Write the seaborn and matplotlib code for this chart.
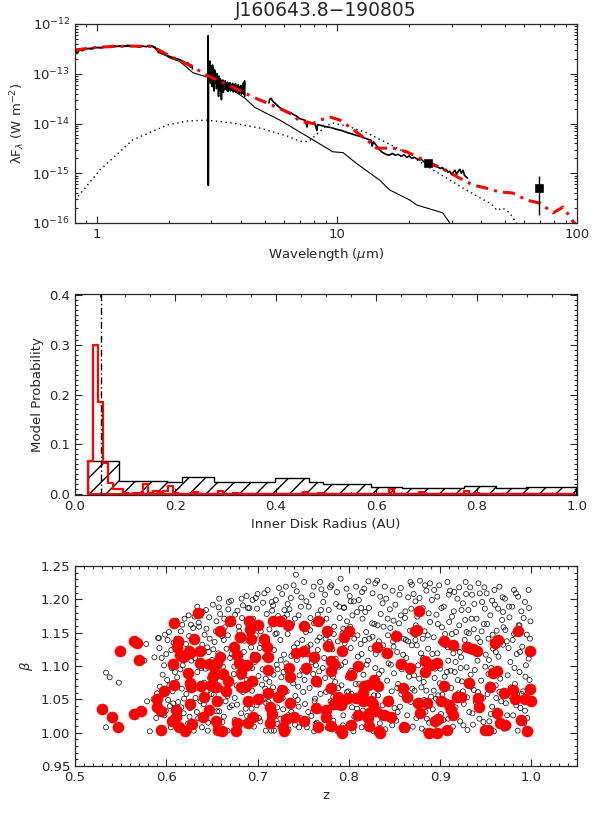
import numpy as np
import pandas as pd
import seaborn as sns
import matplotlib.pyplot as plt
from matplotlib.ticker import (MultipleLocator, FixedLocator, NullFormatter, FormatStrFormatter,
                               FuncFormatter)

sns.set_style('ticks')
plt.rcParams['font.family'] = ['DejaVu Sans']
plt.rcParams['mathtext.fontset'] = 'dejavusans'

# ---------------- SED panel data (wavelength in micron, lambda F_lambda in W m^-2)
phot_wave = [0.81, 0.9, 1.0, 1.2, 1.5, 1.7, 2.0, 2.22, 2.51, 2.9, 3.5, 4.14, 4.55, 5.78, 7.94,
             9.6, 10.6, 12.0, 15.1, 16.6, 20.1, 21.5, 27.6, 29.5, 32.0]
phot_flux = [3.0e-13, 3.2e-13, 3.4e-13, 3.5e-13, 3.55e-13, 3.5e-13, 2.1e-13, 1.75e-13, 1.05e-13,
             8.5e-14, 5.6e-14, 3.2e-14, 2.1e-14, 1.17e-14, 4.7e-15, 2.7e-15, 2.6e-15, 1.6e-15,
             7.2e-16, 4.6e-16, 2.9e-16, 2.3e-16, 1.6e-16, 1.0e-16, 6.3e-17]

disk_wave = [0.81, 1.03, 1.41, 1.96, 2.37, 2.87, 3.68, 4.77, 6.2, 7.0, 7.6, 8.3, 9.0, 9.6, 11.0,
             13.3, 18.3, 25.1, 34.6, 39.5, 44.0, 46.4, 49.0, 52.4, 56.0, 60.0]
disk_flux = [2.9e-16, 1.17e-15, 4.7e-15, 9.3e-15, 1.12e-14, 1.17e-14, 1.02e-14, 8.1e-15, 5.6e-15,
             4.4e-15, 4.3e-15, 6.3e-15, 8.9e-15, 1.02e-14, 8.9e-15, 6.5e-15, 3.0e-15, 1.17e-15,
             4.6e-16, 3.2e-16, 2.4e-16, 1.8e-16, 2.0e-16, 1.6e-16, 1.0e-16, 5e-17]

model_wave = [0.81, 0.9, 1.0, 1.2, 1.4, 1.7, 2.0, 2.49, 2.87, 3.68, 4.47, 5.1, 6.56, 7.0, 7.94,
              8.5, 9.36, 10.3, 11.3, 13.3, 14.6, 17.1, 19.5, 22.2, 26.9, 32.6, 36.8, 42.0, 47.6,
              54.0, 61.7, 70.0, 79.6, 87.6, 96.5, 100.0]
model_flux = [3.0e-13, 3.2e-13, 3.4e-13, 3.55e-13, 3.6e-13, 3.55e-13, 2.3e-13, 1.4e-13, 9.3e-14,
              5.4e-14, 3.4e-14, 2.6e-14, 1.5e-14, 1.1e-14, 1.0e-14, 1.17e-14, 1.35e-14, 1.17e-14,
              8.5e-15, 4.7e-15, 3.2e-15, 3.2e-15, 2.7e-15, 2.0e-15, 1.3e-15, 7.9e-16, 5.8e-16,
              5.0e-16, 4.2e-16, 4.0e-16, 2.9e-16, 2.5e-16, 1.6e-16, 2.1e-16, 1.05e-16, 8.9e-17]

nir_wave = [0.81, 0.815, 0.82, 0.83, 0.84, 0.85, 0.87, 0.89, 0.92, 0.95, 0.98, 1.0, 1.04, 1.08,
            1.12, 1.16, 1.2, 1.25, 1.3, 1.35, 1.4, 1.45, 1.5, 1.55, 1.6, 1.65, 1.7, 1.75, 1.8,
            1.9, 2.0, 2.1, 2.2, 2.3, 2.35, 2.4, 2.45, 2.48, 2.5]
nir_flux = [2.9e-13, 2.5e-13, 2.8e-13, 2.6e-13, 2.9e-13, 3.0e-13, 2.9e-13, 3.1e-13, 3.2e-13,
            3.15e-13, 3.3e-13, 3.35e-13, 3.3e-13, 3.45e-13, 3.5e-13, 3.7e-13, 3.55e-13, 3.65e-13,
            3.6e-13, 3.75e-13, 3.55e-13, 3.6e-13, 3.4e-13, 3.6e-13, 3.5e-13, 3.7e-13, 3.6e-13,
            3.4e-13, 2.7e-13, 2.45e-13, 2.25e-13, 2.05e-13, 1.95e-13, 1.75e-13, 1.55e-13, 1.65e-13,
            1.35e-13, 1.5e-13, 1.25e-13]

lband_wave = [2.90, 2.905, 2.91, 2.915, 2.92, 2.93, 2.94, 2.95, 2.96, 2.97, 2.98, 2.99, 3.00, 3.01,
              3.02, 3.03, 3.04, 3.05, 3.06, 3.07, 3.08, 3.09, 3.10, 3.11, 3.12, 3.135, 3.15, 3.165,
              3.18, 3.195, 3.21, 3.225, 3.24, 3.255, 3.27, 3.285, 3.30, 3.315, 3.33, 3.345, 3.36,
              3.38, 3.40, 3.42, 3.44, 3.46, 3.48, 3.50, 3.52, 3.54, 3.56, 3.58, 3.60, 3.625, 3.65,
              3.675, 3.70, 3.725, 3.75, 3.775, 3.80, 3.825, 3.85, 3.875, 3.90, 3.925, 3.95, 3.975,
              4.00, 4.025, 4.05, 4.075, 4.10, 4.12, 4.13]
lband_flux_e14 = [9, 58, 0.057, 12, 16, 7, 13, 8, 18, 6.5, 11, 14, 7.5, 12, 5.5, 15, 9, 13, 6,
                  10.5, 4.5, 12, 8, 11, 6.5, 9.5, 5, 10, 6, 8.5, 3.5, 9, 5.5, 8, 4.5, 7.5, 3.0, 7,
                  5, 7.5, 4.2, 6.8, 4.8, 7.2, 5, 6.5, 4.6, 6.8, 4.4, 6.2, 4.9, 6.6, 4.5, 6.1, 4.7,
                  6.4, 4.3, 5.9, 4.6, 6.3, 4.2, 5.7, 4.4, 6.0, 4.0, 5.5, 4.3, 5.8, 3.9, 5.2, 4.1,
                  6.5, 3.8, 7.2, 3.5]

irs_wave = [5.20, 5.25, 5.32, 5.40, 5.50, 5.65, 5.80, 6.0, 6.2, 6.4, 6.6, 6.8, 7.0, 7.2, 7.4, 7.5,
            7.55, 7.7, 7.9, 8.1, 8.25, 8.3, 8.45, 8.7, 9.0, 9.3, 9.6, 10.0, 10.5, 11.0, 11.5, 12.0,
            12.5, 13.0, 13.5, 13.9, 14.0, 14.2, 14.6, 15.0, 15.5, 16.0, 16.5, 17.0, 17.5, 18.0,
            18.5, 19.0, 19.5, 20.0, 20.5, 21.0, 21.5, 22.0, 22.5, 23.0, 23.5, 24.0, 24.5, 25.0,
            25.5, 26.0, 26.5, 27.0, 27.5, 28.0, 28.5, 29.0, 29.5, 30.0, 30.5, 31.0, 31.5, 32.0,
            32.5, 33.0, 33.5, 34.0, 34.5, 35.0]
irs_flux_e15 = [26, 31, 32, 28, 26, 23, 20.5, 19, 17.5, 16.5, 15, 14, 12.5, 12, 11.5, 8.5, 11, 10.5,
                10.2, 9.8, 7.2, 9.5, 9.3, 9.0, 8.6, 8.4, 8.1, 7.6, 7.2, 6.6, 6.2, 5.8, 5.5, 5.1,
                4.8, 4.6, 3.5, 4.3, 3.6, 3.0, 2.6, 2.4, 2.3, 2.5, 2.3, 2.4, 2.2, 2.35, 2.1, 2.2,
                2.0, 2.1, 1.95, 1.85, 1.9, 1.7, 1.6, 1.65, 1.5, 1.45, 1.4, 1.35, 1.3, 1.25, 1.3,
                1.15, 1.2, 1.05, 1.1, 0.95, 1.05, 1.15, 0.95, 1.1, 1.2, 1.0, 1.15, 0.9, 0.85, 0.8]

mips_wave = [23.9, 69.6]
mips_flux = [1.6e-15, 5.0e-16]
mips_err_lo = [0.1e-15, 3.55e-16]
mips_err_hi = [0.1e-15, 3.7e-16]

sed_xticks = [1, 10, 100]
sed_yticks = [1e-16, 1e-15, 1e-14, 1e-13, 1e-12]

# ---------------- inner disk radius histograms
prior_edges = [0.025, 0.088, 0.183, 0.213, 0.276, 0.399, 0.466, 0.494, 0.589, 0.652, 0.775,
               0.838, 0.898, 0.998]
prior_prob = [0.066, 0.026, 0.024, 0.033, 0.023, 0.031, 0.023, 0.019, 0.014, 0.012, 0.015,
              0.011, 0.0125]

fit_left = [0.025, 0.035, 0.045, 0.055, 0.065, 0.075, 0.085, 0.095, 0.115, 0.125, 0.135, 0.145,
            0.155, 0.165, 0.175, 0.185, 0.195, 0.235, 0.285, 0.315, 0.455, 0.485, 0.625, 0.685,
            0.775, 0.795]
fit_prob = [0.066, 0.300, 0.184, 0.061, 0.021, 0.0085, 0.0085, 0.002, 0.002, 0.002, 0.019, 0.002,
            0.0057, 0.003, 0.0057, 0.015, 0.002, 0.0037, 0.0044, 0.002, 0.0037, 0.002, 0.0085,
            0.0037, 0.0057, 0.002]
best_rin = 0.052

# ---------------- z vs beta scatter
all_models = [
    (0.534, 1.090), (0.538, 1.083), (0.548, 1.075), (0.534, 1.008), (0.578, 1.133), (0.576, 1.108),
    (0.579, 1.047), (0.582, 1.002), (0.587, 1.113), (0.592, 1.142), (0.586, 1.050), (0.588, 1.039),
    (0.589, 1.022), (0.590, 1.059),
    (0.591, 1.142), (0.593, 1.069), (0.596, 1.087), (0.598, 1.026), (0.600, 1.118), (0.602, 1.049),
    (0.603, 1.151), (0.605, 1.008), (0.606, 1.097), (0.607, 1.062), (0.608, 1.135), (0.609, 1.018),
    (0.595, 1.112), (0.601, 1.079), (0.604, 1.040),
    (0.611, 1.168), (0.612, 1.083), (0.613, 1.046), (0.614, 1.127), (0.615, 1.005), (0.616, 1.152),
    (0.617, 1.066), (0.618, 1.101), (0.619, 1.029), (0.620, 1.171), (0.621, 1.115), (0.622, 1.058),
    (0.623, 1.089), (0.624, 1.014), (0.625, 1.145), (0.626, 1.037), (0.627, 1.162), (0.628, 1.076),
    (0.629, 1.121), (0.630, 1.003),
    (0.631, 1.174), (0.632, 1.052), (0.633, 1.137), (0.634, 1.091), (0.635, 1.022), (0.636, 1.159),
    (0.637, 1.071), (0.638, 1.118), (0.639, 1.008), (0.640, 1.181), (0.641, 1.043), (0.642, 1.147),
    (0.643, 1.096), (0.644, 1.062), (0.645, 1.128), (0.646, 1.015), (0.647, 1.173), (0.648, 1.082),
    (0.649, 1.035), (0.650, 1.109), (0.634, 1.189), (0.644, 1.156),
    (0.651, 1.192), (0.652, 1.057), (0.653, 1.136), (0.654, 1.011), (0.655, 1.167), (0.656, 1.084),
    (0.657, 1.119), (0.658, 1.032), (0.659, 1.178), (0.660, 1.066), (0.661, 1.145), (0.662, 1.099),
    (0.663, 1.024), (0.664, 1.158), (0.665, 1.047), (0.666, 1.126), (0.667, 1.003), (0.668, 1.185),
    (0.669, 1.077), (0.670, 1.112), (0.658, 1.201), (0.663, 1.139), (0.667, 1.055),
    (0.671, 1.198), (0.672, 1.041), (0.673, 1.164), (0.674, 1.088), (0.675, 1.019), (0.676, 1.131),
    (0.677, 1.071), (0.678, 1.183), (0.679, 1.006), (0.680, 1.152), (0.681, 1.104), (0.682, 1.029),
    (0.683, 1.172), (0.684, 1.061), (0.685, 1.121), (0.686, 1.093), (0.687, 1.036), (0.688, 1.205),
    (0.689, 1.143), (0.690, 1.012), (0.675, 1.052), (0.679, 1.116), (0.684, 1.191), (0.688, 1.079),
    (0.691, 1.187), (0.692, 1.024), (0.693, 1.128), (0.694, 1.063), (0.695, 1.171), (0.696, 1.009),
    (0.697, 1.106), (0.698, 1.146), (0.699, 1.041), (0.700, 1.208), (0.701, 1.085), (0.702, 1.161),
    (0.703, 1.017), (0.704, 1.134), (0.705, 1.072), (0.706, 1.195), (0.707, 1.052), (0.708, 1.113),
    (0.709, 1.003), (0.710, 1.178), (0.694, 1.097), (0.698, 1.202), (0.703, 1.054), (0.707, 1.141),
    (0.709, 1.081),
    (0.711, 1.214), (0.712, 1.046), (0.713, 1.155), (0.714, 1.091), (0.715, 1.003), (0.716, 1.183),
    (0.717, 1.068), (0.718, 1.124), (0.719, 1.027), (0.720, 1.199), (0.721, 1.102), (0.722, 1.013),
    (0.723, 1.167), (0.724, 1.057), (0.725, 1.139), (0.726, 1.083), (0.727, 1.208), (0.728, 1.035),
    (0.729, 1.117), (0.730, 1.001), (0.713, 1.076), (0.717, 1.191), (0.721, 1.149), (0.725, 1.021),
    (0.729, 1.172), (0.718, 1.003), (0.722, 1.095),
    (0.731, 1.219), (0.732, 1.062), (0.733, 1.148), (0.734, 1.005), (0.735, 1.185), (0.736, 1.097),
    (0.737, 1.031), (0.738, 1.163), (0.739, 1.074), (0.740, 1.128), (0.741, 1.012), (0.742, 1.237),
    (0.743, 1.109), (0.744, 1.049), (0.745, 1.176), (0.746, 1.086), (0.747, 1.022), (0.748, 1.203),
    (0.749, 1.139), (0.750, 1.061), (0.733, 1.193), (0.737, 1.115), (0.741, 1.171), (0.745, 1.039),
    (0.749, 1.094), (0.735, 1.041), (0.743, 1.212),
    (0.751, 1.226), (0.752, 1.043), (0.753, 1.151), (0.754, 1.008), (0.755, 1.118), (0.756, 1.189),
    (0.757, 1.067), (0.758, 1.132), (0.759, 1.025), (0.760, 1.206), (0.761, 1.088), (0.762, 1.164),
    (0.763, 1.051), (0.764, 1.101), (0.765, 1.015), (0.766, 1.177), (0.767, 1.072), (0.768, 1.143),
    (0.769, 1.033), (0.770, 1.215), (0.754, 1.091), (0.758, 1.172), (0.762, 1.002), (0.766, 1.124),
    (0.769, 1.058), (0.772, 1.196),
    (0.771, 1.168), (0.772, 1.034), (0.773, 1.112), (0.774, 1.207), (0.775, 1.061), (0.776, 1.146),
    (0.777, 1.007), (0.778, 1.184), (0.779, 1.093), (0.780, 1.047), (0.781, 1.221), (0.782, 1.125),
    (0.783, 1.018), (0.784, 1.159), (0.785, 1.076), (0.786, 1.193), (0.787, 1.039), (0.788, 1.137),
    (0.789, 1.099), (0.790, 1.004), (0.774, 1.082), (0.779, 1.136), (0.783, 1.054), (0.787, 1.211),
    (0.790, 1.172),
    (0.791, 1.231), (0.792, 1.071), (0.793, 1.149), (0.794, 1.026), (0.795, 1.188), (0.796, 1.106),
    (0.797, 1.045), (0.798, 1.167), (0.799, 1.083), (0.800, 1.012), (0.801, 1.205), (0.802, 1.127),
    (0.803, 1.058), (0.804, 1.176), (0.805, 1.002), (0.806, 1.141), (0.807, 1.092), (0.808, 1.219),
    (0.809, 1.036), (0.810, 1.114), (0.794, 1.156), (0.798, 1.061), (0.802, 1.197), (0.806, 1.024),
    (0.809, 1.181),
    (0.811, 1.199), (0.812, 1.049), (0.813, 1.133), (0.814, 1.008), (0.815, 1.171), (0.816, 1.087),
    (0.817, 1.216), (0.818, 1.064), (0.819, 1.151), (0.820, 1.021), (0.821, 1.108), (0.822, 1.187),
    (0.823, 1.043), (0.824, 1.126), (0.825, 1.075), (0.826, 1.209), (0.827, 1.002), (0.828, 1.163),
    (0.829, 1.097), (0.830, 1.031), (0.814, 1.118), (0.818, 1.181), (0.822, 1.069), (0.826, 1.144),
    (0.829, 1.224),
    (0.831, 1.228), (0.832, 1.056), (0.833, 1.137), (0.834, 1.014), (0.835, 1.178), (0.836, 1.093),
    (0.837, 1.041), (0.838, 1.159), (0.839, 1.117), (0.840, 1.005), (0.841, 1.201), (0.842, 1.078),
    (0.843, 1.146), (0.844, 1.027), (0.845, 1.185), (0.846, 1.102), (0.847, 1.062), (0.848, 1.213),
    (0.849, 1.129), (0.850, 1.037), (0.833, 1.088), (0.837, 1.194), (0.841, 1.123), (0.845, 1.051),
    (0.849, 1.168),
    (0.851, 1.192), (0.852, 1.018), (0.853, 1.121), (0.854, 1.073), (0.855, 1.164), (0.856, 1.039),
    (0.857, 1.217), (0.858, 1.095), (0.859, 1.004), (0.860, 1.141), (0.861, 1.058), (0.862, 1.182),
    (0.863, 1.112), (0.864, 1.026), (0.865, 1.203), (0.866, 1.084), (0.867, 1.153), (0.868, 1.046),
    (0.869, 1.131), (0.870, 1.009), (0.853, 1.067), (0.857, 1.176), (0.861, 1.101), (0.865, 1.137),
    (0.869, 1.222),
    (0.871, 1.208), (0.872, 1.063), (0.873, 1.139), (0.874, 1.022), (0.875, 1.174), (0.876, 1.101),
    (0.877, 1.044), (0.878, 1.228), (0.879, 1.119), (0.880, 1.006), (0.881, 1.187), (0.882, 1.076),
    (0.883, 1.152), (0.884, 1.031), (0.885, 1.213), (0.886, 1.089), (0.887, 1.126), (0.888, 1.015),
    (0.889, 1.166), (0.890, 1.054), (0.873, 1.197), (0.877, 1.081), (0.881, 1.141), (0.885, 1.063),
    (0.889, 1.224), (0.884, 1.002),
    (0.891, 1.199), (0.892, 1.035), (0.893, 1.143), (0.894, 1.082), (0.895, 1.012), (0.896, 1.177),
    (0.897, 1.119), (0.898, 1.056), (0.899, 1.221), (0.900, 1.096), (0.901, 1.028), (0.902, 1.158),
    (0.903, 1.071), (0.904, 1.189), (0.905, 1.003), (0.906, 1.131), (0.907, 1.047), (0.908, 1.226),
    (0.909, 1.108), (0.910, 1.166), (0.893, 1.063), (0.897, 1.204), (0.901, 1.136), (0.905, 1.084),
    (0.909, 1.021),
    (0.911, 1.213), (0.912, 1.067), (0.913, 1.148), (0.914, 1.009), (0.915, 1.182), (0.916, 1.091),
    (0.917, 1.038), (0.918, 1.127), (0.919, 1.201), (0.920, 1.059), (0.921, 1.161), (0.922, 1.017),
    (0.923, 1.113), (0.924, 1.077), (0.925, 1.194), (0.926, 1.043), (0.927, 1.139), (0.928, 1.226),
    (0.929, 1.098), (0.930, 1.004), (0.913, 1.174), (0.917, 1.106), (0.921, 1.218), (0.925, 1.062),
    (0.929, 1.151),
    (0.931, 1.184), (0.932, 1.031), (0.933, 1.122), (0.934, 1.069), (0.935, 1.207), (0.936, 1.012),
    (0.937, 1.155), (0.938, 1.094), (0.939, 1.046), (0.940, 1.171), (0.941, 1.108), (0.942, 1.224),
    (0.943, 1.021), (0.944, 1.136), (0.945, 1.078), (0.946, 1.196), (0.947, 1.052), (0.948, 1.163),
    (0.949, 1.002), (0.950, 1.117), (0.933, 1.218), (0.937, 1.064), (0.941, 1.142), (0.945, 1.035),
    (0.949, 1.186),
    (0.951, 1.209), (0.952, 1.058), (0.953, 1.141), (0.954, 1.017), (0.955, 1.176), (0.956, 1.097),
    (0.957, 1.039), (0.958, 1.126), (0.959, 1.002), (0.960, 1.192), (0.961, 1.071), (0.962, 1.153),
    (0.963, 1.028), (0.964, 1.114), (0.965, 1.219), (0.966, 1.081), (0.967, 1.047), (0.968, 1.169),
    (0.969, 1.132), (0.970, 1.006), (0.953, 1.088), (0.957, 1.198), (0.961, 1.121), (0.965, 1.061),
    (0.969, 1.181),
    (0.971, 1.201), (0.972, 1.044), (0.973, 1.137), (0.974, 1.086), (0.975, 1.011), (0.976, 1.173),
    (0.977, 1.106), (0.978, 1.054), (0.979, 1.189), (0.980, 1.026), (0.981, 1.148), (0.982, 1.073),
    (0.983, 1.209), (0.984, 1.118), (0.985, 1.003), (0.986, 1.161), (0.987, 1.091), (0.988, 1.037),
    (0.989, 1.182), (0.990, 1.129), (0.991, 1.062), (0.992, 1.014), (0.993, 1.196), (0.994, 1.101),
    (0.995, 1.147), (0.996, 1.048), (0.997, 1.214), (0.998, 1.079), (0.999, 1.002), (0.999, 1.167),
    (0.975, 1.127), (0.981, 1.214), (0.987, 1.161), (0.993, 1.033), (0.997, 1.111),
    # second pass over the cloud
    (0.5925, 1.127), (0.5945, 1.055), (0.5975, 1.101), (0.5995, 1.033), (0.6015, 1.139),
    (0.6035, 1.071), (0.6055, 1.124), (0.6075, 1.044), (0.6095, 1.091), (0.5985, 1.147),
    (0.6115, 1.141), (0.6135, 1.012), (0.6155, 1.095), (0.6175, 1.162), (0.6195, 1.051),
    (0.6215, 1.133), (0.6235, 1.072), (0.6255, 1.024), (0.6275, 1.108), (0.6295, 1.157),
    (0.6165, 1.038), (0.6245, 1.176),
    (0.6315, 1.112), (0.6335, 1.031), (0.6355, 1.165), (0.6375, 1.047), (0.6395, 1.132),
    (0.6415, 1.075), (0.6435, 1.184), (0.6455, 1.003), (0.6475, 1.141), (0.6495, 1.058),
    (0.6385, 1.097), (0.6465, 1.121),
    (0.6515, 1.125), (0.6535, 1.079), (0.6555, 1.032), (0.6575, 1.188), (0.6595, 1.107),
    (0.6615, 1.016), (0.6635, 1.171), (0.6655, 1.089), (0.6675, 1.146), (0.6695, 1.038),
    (0.6545, 1.152), (0.6625, 1.062), (0.6685, 1.196),
    (0.6715, 1.118), (0.6735, 1.003), (0.6755, 1.177), (0.6775, 1.042), (0.6795, 1.159),
    (0.6815, 1.083), (0.6835, 1.015), (0.6855, 1.138), (0.6875, 1.064), (0.6895, 1.187),
    (0.6745, 1.099), (0.6825, 1.201), (0.6885, 1.025),
    (0.6915, 1.148), (0.6935, 1.036), (0.6955, 1.117), (0.6975, 1.074), (0.6995, 1.186),
    (0.7015, 1.022), (0.7035, 1.152), (0.7055, 1.095), (0.7075, 1.209), (0.7095, 1.044),
    (0.6945, 1.199), (0.7025, 1.127), (0.7085, 1.066),
    (0.7115, 1.132), (0.7135, 1.021), (0.7155, 1.196), (0.7175, 1.087), (0.7195, 1.148),
    (0.7215, 1.038), (0.7235, 1.217), (0.7255, 1.109), (0.7275, 1.052), (0.7295, 1.184),
    (0.7145, 1.061), (0.7225, 1.175), (0.7285, 1.091),
    (0.7315, 1.104), (0.7335, 1.026), (0.7355, 1.158), (0.7375, 1.081), (0.7395, 1.221),
    (0.7415, 1.055), (0.7435, 1.134), (0.7455, 1.008), (0.7475, 1.189), (0.7495, 1.117),
    (0.7365, 1.202), (0.7445, 1.069), (0.7325, 1.177),
    (0.7515, 1.079), (0.7535, 1.197), (0.7555, 1.031), (0.7575, 1.154), (0.7595, 1.106),
    (0.7615, 1.219), (0.7635, 1.013), (0.7655, 1.138), (0.7675, 1.092), (0.7695, 1.184),
    (0.7545, 1.128), (0.7625, 1.047), (0.7685, 1.226),
    (0.7715, 1.097), (0.7735, 1.019), (0.7755, 1.171), (0.7775, 1.064), (0.7795, 1.218),
    (0.7815, 1.042), (0.7835, 1.148), (0.7855, 1.111), (0.7875, 1.002), (0.7895, 1.189),
    (0.7745, 1.141), (0.7825, 1.084), (0.7885, 1.067),
    (0.7915, 1.101), (0.7935, 1.011), (0.7955, 1.134), (0.7975, 1.216), (0.7995, 1.062),
    (0.8015, 1.159), (0.8035, 1.038), (0.8055, 1.197), (0.8075, 1.073), (0.8095, 1.146),
    (0.7945, 1.187), (0.8025, 1.093), (0.8085, 1.021),
    (0.8115, 1.073), (0.8135, 1.187), (0.8155, 1.033), (0.8175, 1.139), (0.8195, 1.102),
    (0.8215, 1.227), (0.8235, 1.012), (0.8255, 1.164), (0.8275, 1.056), (0.8295, 1.118),
    (0.8145, 1.211), (0.8225, 1.141), (0.8285, 1.081),
    (0.8315, 1.161), (0.8335, 1.071), (0.8355, 1.023), (0.8375, 1.131), (0.8395, 1.219),
    (0.8415, 1.046), (0.8435, 1.104), (0.8455, 1.157), (0.8475, 1.011), (0.8495, 1.089),
    (0.8345, 1.204), (0.8425, 1.171), (0.8485, 1.137),
    (0.8515, 1.149), (0.8535, 1.031), (0.8555, 1.207), (0.8575, 1.058), (0.8595, 1.117),
    (0.8615, 1.172), (0.8635, 1.004), (0.8655, 1.093), (0.8675, 1.226), (0.8695, 1.066),
    (0.8545, 1.101), (0.8625, 1.139), (0.8685, 1.186),
    (0.8715, 1.086), (0.8735, 1.161), (0.8755, 1.043), (0.8775, 1.202), (0.8795, 1.068),
    (0.8815, 1.112), (0.8835, 1.221), (0.8855, 1.021), (0.8875, 1.179), (0.8895, 1.097),
    (0.8745, 1.131), (0.8825, 1.049), (0.8865, 1.146),
    (0.8915, 1.118), (0.8935, 1.214), (0.8955, 1.051), (0.8975, 1.163), (0.8995, 1.074),
    (0.9015, 1.187), (0.9035, 1.019), (0.9055, 1.148), (0.9075, 1.091), (0.9095, 1.207),
    (0.8945, 1.096), (0.9025, 1.057), (0.9085, 1.128),
    (0.9115, 1.093), (0.9135, 1.028), (0.9155, 1.211), (0.9175, 1.151), (0.9195, 1.079),
    (0.9215, 1.121), (0.9235, 1.184), (0.9255, 1.011), (0.9275, 1.169), (0.9295, 1.053),
    (0.9145, 1.119), (0.9225, 1.097), (0.9285, 1.208),
    (0.9315, 1.149), (0.9335, 1.087), (0.9355, 1.029), (0.9375, 1.193), (0.9395, 1.124),
    (0.9415, 1.061), (0.9435, 1.209), (0.9455, 1.152), (0.9475, 1.016), (0.9495, 1.099),
    (0.9345, 1.171), (0.9425, 1.038), (0.9485, 1.218),
    (0.9515, 1.163), (0.9535, 1.109), (0.9555, 1.028), (0.9575, 1.147), (0.9595, 1.214),
    (0.9615, 1.052), (0.9635, 1.186), (0.9655, 1.091), (0.9675, 1.009), (0.9695, 1.158),
    (0.9545, 1.072), (0.9625, 1.137), (0.9685, 1.203),
    (0.9715, 1.154), (0.9735, 1.026), (0.9755, 1.189), (0.9775, 1.068), (0.9795, 1.139),
    (0.9815, 1.097), (0.9835, 1.041), (0.9855, 1.204), (0.9875, 1.121), (0.9895, 1.058),
    (0.9915, 1.172), (0.9935, 1.084), (0.9955, 1.022), (0.9975, 1.187), (0.9985, 1.141),
    (0.9995, 1.061),
]

good_fits = [
    (0.530, 1.036), (0.541, 1.023), (0.547, 1.008), (0.549, 1.123), (0.565, 1.138), (0.568, 1.134),
    (0.570, 1.109), (0.565, 1.028), (0.572, 1.032), (0.590, 1.050), (0.590, 1.039), (0.594, 1.033),
    (0.594, 1.004), (0.598, 1.063), (0.607, 1.103), (0.609, 1.165), (0.609, 1.072), (0.611, 1.034),
    (0.611, 1.024), (0.606, 1.017), (0.613, 1.138), (0.612, 1.129), (0.615, 1.117), (0.618, 1.114),
    (0.620, 1.003), (0.614, 1.009), (0.624, 1.090), (0.625, 1.123), (0.626, 1.119), (0.626, 1.074),
    (0.627, 1.068), (0.626, 1.043), (0.628, 1.013), (0.630, 1.140), (0.635, 1.180), (0.637, 1.123),
    (0.637, 1.105), (0.638, 1.070), (0.640, 1.024), (0.641, 1.053), (0.647, 1.103), (0.647, 1.034),
    (0.649, 1.072), (0.651, 1.085), (0.652, 1.098), (0.654, 1.018), (0.654, 1.069), (0.656, 1.104),
    (0.656, 1.048), (0.657, 1.004), (0.659, 1.153), (0.659, 1.114), (0.661, 1.003), (0.662, 1.088),
    (0.665, 1.063), (0.670, 1.167), (0.668, 1.077), (0.674, 1.129), (0.676, 1.003), (0.677, 1.014),
    (0.678, 1.117), (0.680, 1.104), (0.681, 1.143), (0.682, 1.089), (0.682, 1.068), (0.687, 1.070),
    (0.688, 1.102), (0.689, 1.047), (0.689, 1.014), (0.691, 1.168), (0.692, 1.155), (0.693, 1.140),
    (0.694, 1.077), (0.695, 1.024), (0.697, 1.114), (0.700, 1.050), (0.701, 1.162), (0.707, 1.140),
    (0.710, 1.129), (0.711, 1.114), (0.711, 1.094), (0.712, 1.059), (0.714, 1.039), (0.714, 1.014),
    (0.716, 1.028), (0.717, 1.168), (0.722, 1.054), (0.725, 1.167), (0.727, 1.064), (0.728, 1.008),
    (0.729, 1.002), (0.731, 1.020), (0.733, 1.162), (0.734, 1.097), (0.736, 1.084), (0.736, 1.044),
    (0.740, 1.024), (0.742, 1.119),
    (0.751, 1.160), (0.766, 1.168), (0.751, 1.122), (0.762, 1.114), (0.753, 1.097), (0.764, 1.078),
    (0.764, 1.037), (0.751, 1.017), (0.766, 1.009), (0.776, 1.152), (0.795, 1.143), (0.800, 1.153),
    (0.777, 1.130), (0.792, 1.122), (0.780, 1.107), (0.784, 1.103), (0.780, 1.093), (0.802, 1.086),
    (0.810, 1.100), (0.780, 1.067), (0.788, 1.054), (0.799, 1.052), (0.784, 1.043), (0.791, 1.042),
    (0.775, 1.034), (0.775, 1.023), (0.780, 1.010), (0.791, 1.004), (0.793, 1.000), (0.802, 1.012),
    (0.808, 1.052), (0.810, 1.027), (0.815, 1.059), (0.817, 1.070), (0.821, 1.072), (0.816, 1.047),
    (0.824, 1.047), (0.828, 1.079), (0.831, 1.129), (0.832, 1.070), (0.826, 1.043), (0.822, 1.029),
    (0.821, 1.022), (0.822, 1.010), (0.830, 1.032), (0.833, 1.002), (0.834, 1.000), (0.839, 1.027),
    (0.842, 1.119), (0.843, 1.047), (0.846, 1.024), (0.852, 1.145), (0.857, 1.103), (0.859, 1.067),
    (0.861, 1.008), (0.864, 1.054), (0.867, 1.097), (0.873, 1.152), (0.875, 1.154), (0.877, 1.183),
    (0.876, 1.044), (0.878, 1.029), (0.883, 1.107), (0.883, 1.091), (0.886, 1.044), (0.890, 1.102),
    (0.897, 1.104), (0.888, 1.000), (0.897, 1.000), (0.894, 1.018), (0.898, 1.020), (0.901, 1.047),
    (0.904, 1.070), (0.904, 1.137), (0.910, 1.042), (0.912, 1.034), (0.914, 1.027), (0.908, 1.004),
    (0.914, 1.132), (0.919, 1.054), (0.923, 1.054), (0.929, 1.128), (0.932, 1.074), (0.936, 1.125),
    (0.940, 1.122), (0.941, 1.052), (0.943, 1.039), (0.949, 1.004), (0.952, 1.004), (0.955, 1.069),
    (0.958, 1.090), (0.962, 1.093), (0.960, 1.135), (0.963, 1.139), (0.962, 1.029), (0.966, 1.014),
    (0.971, 1.012), (0.970, 1.059), (0.980, 1.064), (0.982, 1.050), (0.985, 1.153), (0.989, 1.019),
    (0.993, 1.050), (0.995, 1.002), (0.998, 1.122), (0.999, 1.065), (1.000, 1.047),
]

fig = plt.figure(figsize=(5.99, 8.14), dpi=100)
W, H = 599.0, 814.0
def box(l, t, r, b):
    return [l / W, 1 - b / H, (r - l) / W, (b - t) / H]

ax1 = fig.add_axes(box(75, 24, 577, 223))
ax2 = fig.add_axes(box(75, 294, 577, 495))
ax3 = fig.add_axes(box(75, 566, 577, 766))

fs = 9.5
for ax in (ax1, ax2, ax3):
    ax.tick_params(which='both', direction='in', top=True, right=True, labelsize=fs, width=0.8)
    ax.tick_params(which='major', length=5)
    ax.tick_params(which='minor', length=2.5)
    for sp in ax.spines.values():
        sp.set_linewidth(0.9)

# ---- panel 1: SED
ax1.set_xscale('log')
ax1.set_yscale('log')
sns.lineplot(x=phot_wave, y=phot_flux, estimator=None, sort=False, color='black', lw=0.8, ax=ax1)
sns.lineplot(x=disk_wave, y=disk_flux, estimator=None, sort=False, color='black', lw=1.0,
             linestyle=(0, (1, 2.5)), ax=ax1)
for w, f in [(nir_wave, nir_flux), (lband_wave, [v * 1e-14 for v in lband_flux_e14]),
             (irs_wave, [v * 1e-15 for v in irs_flux_e15])]:
    sns.lineplot(x=w, y=f, estimator=None, sort=False, color='black', lw=1.2, ax=ax1)
sns.lineplot(x=model_wave, y=model_flux, estimator=None, sort=False, color='red', lw=2.2,
             linestyle=(0, (4, 2, 1, 2)), ax=ax1)
ax1.errorbar(mips_wave, mips_flux, yerr=[mips_err_lo, mips_err_hi], fmt='none', ecolor='black',
             elinewidth=1, capsize=0)
sns.scatterplot(x=mips_wave, y=mips_flux, marker='s', color='black', s=32, edgecolor='black',
                ax=ax1, zorder=5)
ax1.set_xlim(0.81, 100)
ax1.set_ylim(1e-16, 1e-12)
minor_x = [m * d for d in (0.1, 1, 10) for m in range(2, 10) if 0.81 <= m * d <= 100]
minor_y = [m * d for d in (1e-16, 1e-15, 1e-14, 1e-13) for m in range(2, 10)]
ax1.xaxis.set_major_locator(FixedLocator(sed_xticks))
ax1.xaxis.set_minor_locator(FixedLocator(minor_x))
ax1.xaxis.set_minor_formatter(NullFormatter())
ax1.xaxis.set_major_formatter(FuncFormatter(lambda v, p: '%g' % v))
ax1.yaxis.set_major_locator(FixedLocator(sed_yticks))
ax1.yaxis.set_minor_locator(FixedLocator(minor_y))
ax1.yaxis.set_minor_formatter(NullFormatter())
ax1.yaxis.set_major_formatter(
    FuncFormatter(lambda v, p: '10$^{%d}$' % int(round(np.log10(v)))))
ax1.set_xlabel('Wavelength ($\\mu$m)', fontsize=fs)
ax1.set_ylabel('\u03bbF$_\\lambda$ (W m$^{-2}$)', fontsize=fs)
fig.text(326 / W, 1 - 11 / H, 'J160643.8\u2212190805', ha='center', va='center', fontsize=13.5)

# ---- panel 2: inner disk radius
prior_centers = [(a + b) / 2 for a, b in zip(prior_edges[:-1], prior_edges[1:])]
sns.histplot(x=prior_centers, weights=prior_prob, bins=prior_edges, element='step', fill=True,
             color='black', edgecolor='black', hatch='//', linewidth=1.0, ax=ax2)
ax2.collections[-1].set_facecolor('none')
fit_edges = [round(0.025 + 0.01 * k, 3) for k in range(98)]
fit_centers = [l + 0.005 for l in fit_left]
sns.histplot(x=fit_centers, weights=fit_prob, bins=fit_edges, element='step', fill=True,
             color='red', edgecolor='red', linewidth=1.6, ax=ax2)
ax2.collections[-1].set_facecolor('none')
ax2.axvline(best_rin, color='black', lw=1.0, linestyle=(0, (5, 2, 1, 2)))
ax2.set_xlim(0, 1.0)
ax2.set_ylim(-0.003, 0.403)
ax2.xaxis.set_major_locator(MultipleLocator(0.2))
ax2.xaxis.set_minor_locator(MultipleLocator(0.05))
ax2.yaxis.set_major_locator(MultipleLocator(0.1))
ax2.yaxis.set_minor_locator(MultipleLocator(0.01))
ax2.xaxis.set_major_formatter(FormatStrFormatter('%.1f'))
ax2.yaxis.set_major_formatter(FormatStrFormatter('%.1f'))
ax2.set_xlabel('Inner Disk Radius (AU)', fontsize=fs)
ax2.set_ylabel('Model Probability', fontsize=fs)

# ---- panel 3: z vs beta
models = pd.DataFrame(all_models, columns=['z', 'beta'])
fits = pd.DataFrame(good_fits, columns=['z', 'beta'])
sns.scatterplot(data=models, x='z', y='beta', marker='o', s=13, facecolors='none',
                edgecolor='black', linewidth=0.5, ax=ax3)
sns.scatterplot(data=fits, x='z', y='beta', marker='o', s=70, color='red', edgecolor='red',
                linewidth=0, ax=ax3, zorder=4)
ax3.set_xlim(0.5, 1.05)
ax3.set_ylim(0.95, 1.25)
ax3.xaxis.set_major_locator(MultipleLocator(0.1))
ax3.xaxis.set_minor_locator(MultipleLocator(0.01))
ax3.yaxis.set_major_locator(MultipleLocator(0.05))
ax3.yaxis.set_minor_locator(MultipleLocator(0.01))
ax3.xaxis.set_major_formatter(FormatStrFormatter('%.1f'))
ax3.yaxis.set_major_formatter(FormatStrFormatter('%.2f'))
ax3.set_xlabel('z', fontsize=fs)
ax3.set_ylabel('$\\beta$', fontsize=fs)

fig.savefig('out.png', dpi=100)
